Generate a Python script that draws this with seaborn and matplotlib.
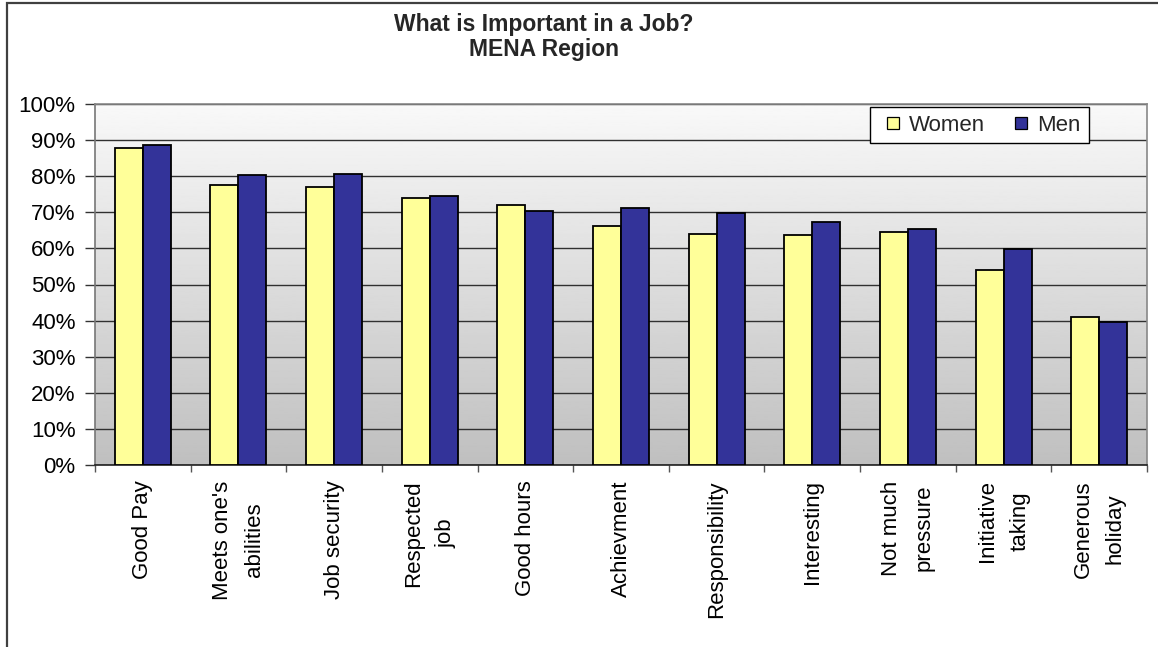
import numpy as np
import pandas as pd
import matplotlib
matplotlib.use("Agg")
import matplotlib.pyplot as plt
import seaborn as sns
from matplotlib.patches import Rectangle
from matplotlib.lines import Line2D
from matplotlib.ticker import PercentFormatter, FixedLocator

categories = ["Good Pay", "Meets one's\nabilities", "Job security", "Respected\njob",
              "Good hours", "Achievment", "Responsibility", "Interesting",
              "Not much\npressure", "Initiative\ntaking", "Generous\nholiday"]
women = [0.878, 0.775, 0.770, 0.739, 0.721, 0.663, 0.641, 0.636, 0.645, 0.540, 0.409]
men = [0.887, 0.802, 0.807, 0.744, 0.704, 0.713, 0.699, 0.672, 0.654, 0.599, 0.397]
series = ["Women", "Men"]
colors = ["#ffff99", "#333399"]
title_text = "What is Important in a Job?\nMENA Region"

df = pd.DataFrame({
    "category": categories * 2,
    "value": women + men,
    "sex": [series[0]] * len(categories) + [series[1]] * len(categories),
})

sns.set_theme(style="white")
plt.rcParams["font.family"] = ["Liberation Sans", "DejaVu Sans"]

W, H = 1158, 647
fig = plt.figure(figsize=(W / 100, H / 100), dpi=100)
fig.patch.set_facecolor("white")
ax = fig.add_axes([95 / W, 1 - 465 / H, (1147 - 95) / W, (465 - 104) / H])

# gradient background
grad = np.linspace(0.975, 0.75, 256).reshape(-1, 1)
ax.imshow(grad, extent=(-0.5, len(categories) - 0.5, 0, 1), aspect="auto",
          cmap="gray", vmin=0, vmax=1, zorder=0, origin="upper")

sns.barplot(data=df, x="category", y="value", hue="sex", hue_order=series,
            palette=colors, width=0.585, gap=0,
            edgecolor="black", linewidth=1.3, saturation=1, ax=ax, zorder=3,
            legend=False)

ax.set_xlim(-0.5, len(categories) - 0.5)
ax.set_ylim(0, 1)
ax.set_yticks(np.arange(0, 1.01, 0.1))
ax.yaxis.set_major_formatter(PercentFormatter(1.0, decimals=0))
ax.yaxis.grid(True, color="#303030", linewidth=1.0)
ax.xaxis.grid(False)
for gl in ax.get_ygridlines():
    gl.set_zorder(1)
ax.set_xlabel("")
ax.set_ylabel("")

ax.set_xticks(range(len(categories)))
ax.set_xticklabels(categories, rotation=90, va="top", ha="center",
                   multialignment="center")
ax.tick_params(axis="y", which="major", direction="out", length=7, width=1,
               color="#333333", labelsize=16, pad=7, left=True, labelcolor="black")
ax.tick_params(axis="x", which="major", length=0, labelsize=16, pad=11, labelcolor="black")
ax.xaxis.set_minor_locator(FixedLocator(np.arange(-0.5, len(categories), 1.0)))
ax.tick_params(axis="x", which="minor", direction="out", length=5, width=1,
               color="#555555", bottom=True)

for side in ["top", "right", "left"]:
    ax.spines[side].set_visible(True)
    ax.spines[side].set_color("#888888")
    ax.spines[side].set_linewidth(1.2)
ax.spines["bottom"].set_color("#202020")
ax.spines["bottom"].set_linewidth(1.2)
ax.spines["left"].set_color("#777777")

handles = [Line2D([], [], marker="s", markersize=8, linestyle="",
                  markerfacecolor=c, markeredgecolor="black", markeredgewidth=0.9)
           for c in colors]
leg = ax.legend(handles, series, loc="upper left", bbox_to_anchor=(0.737, 0.992), ncol=2,
                frameon=True, fancybox=False, edgecolor="black", framealpha=1,
                fontsize=16, handlelength=1.35, handletextpad=0.05,
                columnspacing=0.95, borderpad=0.35, borderaxespad=0)
leg.get_frame().set_linewidth(1.0)
leg.set_zorder(10)

fig.text(544 / W, 1 - 37 / H, title_text, ha="center", va="center",
         fontsize=16.5, fontweight="bold", multialignment="center", linespacing=1.12)

fig.patches.append(Rectangle((7 / W, -0.1), 1.2, 1.1 - 3 / H, transform=fig.transFigure,
                             fill=False, edgecolor="#404040", linewidth=1.6))

fig.canvas.draw()
for tick in ax.xaxis.get_major_ticks():
    tick.label1.set_linespacing(1.72)

fig.savefig("out.png", dpi=100)
